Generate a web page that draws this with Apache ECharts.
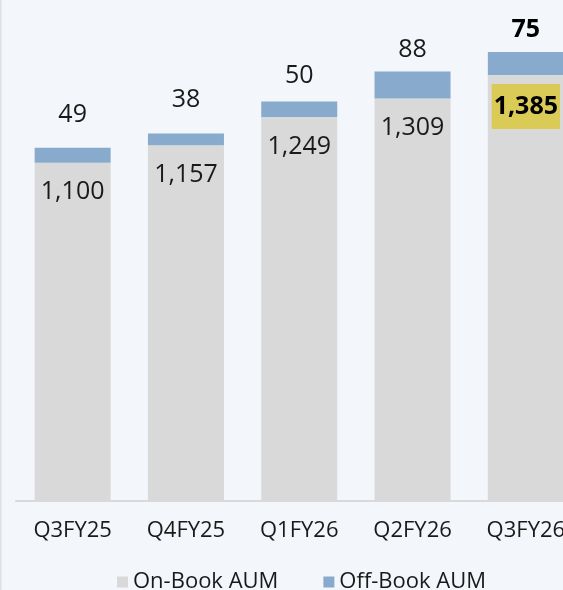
<!DOCTYPE html>
<html>
<head>
<meta charset="utf-8">
<script src="https://cdn.jsdelivr.net/npm/echarts@6/dist/echarts.min.js"></script>
<style>
html,body{margin:0;padding:0;background:#F3F6FA;}
#c{width:563px;height:590px;}
</style>
</head>
<body>
<div id="c"></div>
<script>
const categories = ['Q3FY25', 'Q4FY25', 'Q1FY26', 'Q2FY26', 'Q3FY26'];
const onBook = [1100, 1157, 1249, 1309, 1385];
const offBook = [49, 38, 50, 88, 75];

const FONT = '"Open Sans", "Noto Sans", sans-serif';
const TEXT = '#1a1a1a';
const fmt = v => Number(v).toLocaleString('en-US');
const last = categories.length - 1;
const offGap = [20, 21, 13, 9, 10];

const chart = echarts.init(document.getElementById('c'));
chart.setOption({
  backgroundColor: '#F3F6FA',
  animation: false,
  textStyle: { fontFamily: FONT },
  graphic: [{ type: 'rect', shape: { x: 0, y: 0, width: 1.5, height: 590 }, style: { fill: '#DDE2E8' } }],
  grid: { left: 16, top: 9, width: 566.5, height: 492, containLabel: false, outerBoundsMode: 'none' },
  legend: {
    data: ['On-Book AUM', 'Off-Book AUM'],
    left: 117, top: 571, padding: 0,
    icon: 'rect', itemWidth: 11, itemHeight: 11, itemGap: 45,
    textStyle: { fontFamily: FONT, fontSize: 22, color: TEXT, width: 152 }
  },
  xAxis: {
    type: 'category', data: categories,
    axisLine: { lineStyle: { color: '#D9D9D9', width: 2 } },
    axisTick: { show: false },
    axisLabel: { fontFamily: FONT, fontSize: 22, color: TEXT, margin: 19 }
  },
  yAxis: { type: 'value', min: 0, max: 1600, show: false, splitLine: { show: false } },
  series: [
    {
      name: 'On-Book AUM', type: 'bar', stack: 'aum', barWidth: 76,
      itemStyle: { color: '#D9D9D9' },
      label: {
        show: true, position: 'insideTop', distance: 17,
        fontFamily: FONT, fontSize: 25, color: TEXT,
        formatter: p => fmt(p.value)
      },
      data: onBook.map((v, i) => i === last ? {
        value: v,
        label: { fontWeight: 'bold', color: '#000', backgroundColor: '#D9CB55', padding: [10, 2, 10, 2], distance: 9 }
      } : v)
    },
    {
      name: 'Off-Book AUM', type: 'bar', stack: 'aum', barWidth: 76,
      itemStyle: { color: '#88AACC' },
      label: {
        show: true, position: 'top',
        fontFamily: FONT, fontSize: 25, color: TEXT,
        formatter: p => fmt(p.value)
      },
      data: offBook.map((v, i) => ({
        value: v,
        label: i === last ? { distance: offGap[i], fontWeight: 'bold', color: '#000' } : { distance: offGap[i] }
      }))
    }
  ]
});
</script>
</body>
</html>
